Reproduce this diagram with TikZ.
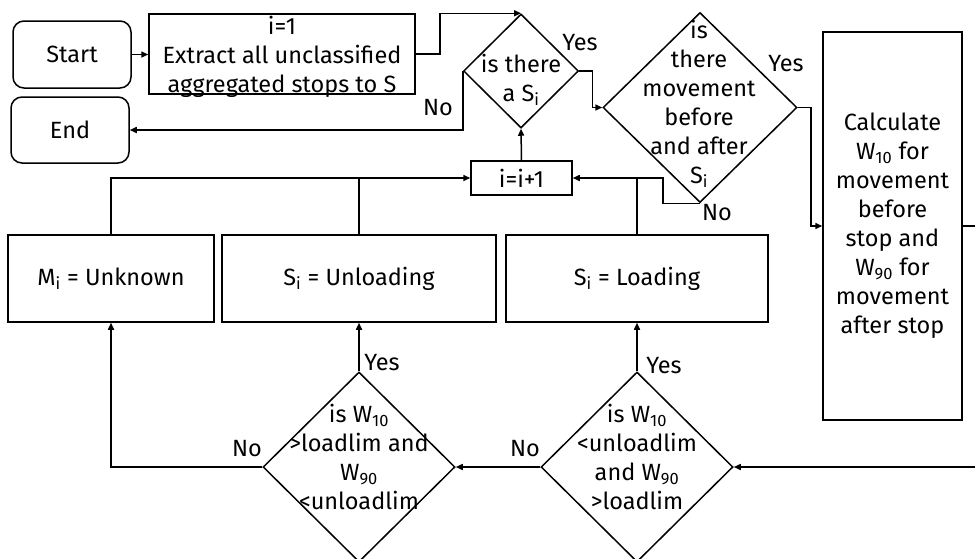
\documentclass[tikz,border=0pt]{standalone}
\usepackage{fontspec}
\setmainfont{Fira Sans}
\usetikzlibrary{shapes.geometric,arrows.meta}
\newcommand\lowidx[1]{\textsubscript{#1}}
\begin{document}
\begin{tikzpicture}[x=1pt,y=-1pt,
  every node/.style={font=\fontsize{23.5}{29}\selectfont},
  box/.style={draw, line width=1.5pt, rectangle, inner sep=0pt, align=center},
  term/.style={box, rounded corners=11pt},
  decision/.style={draw, line width=1.5pt, diamond, inner sep=0pt},
  txt/.style={align=center, inner sep=0pt},
  lbl/.style={inner sep=0pt},
  conn/.style={line width=1.5pt},
  arr/.style={conn, -{Triangle[length=7pt,width=6pt]}}
]
\useasboundingbox (0,0) rectangle (975,558);
\clip (0,0) rectangle (975,558);

% terminals and process boxes
\node[term, minimum width=118pt, minimum height=67pt] (start) at (72,54.5) {Start};
\node[term, minimum width=118pt, minimum height=66pt] (endn) at (70,130) {End};
\node[box, minimum width=266pt, minimum height=80pt] (extract) at (282,54) {};
\node[txt] (extracttxt) at (282,57) {i=1\\Extract all unclassified\\aggregated stops to S};
\node[box, minimum width=101pt, minimum height=34pt] (inc) at (521.5,178) {i=i+1};
\node[box, minimum width=139pt, minimum height=388pt] (calc) at (892.5,226)
  {Calculate\\W\lowidx{10} for\\movement\\before\\stop and\\W\lowidx{90} for\\movement\\after stop};
\node[box, minimum width=206pt, minimum height=87pt] (unk) at (111,278.5) {M\lowidx{i} = Unknown};
\node[box, minimum width=274pt, minimum height=87pt] (unl) at (359,278.5) {S\lowidx{i} = Unloading};
\node[box, minimum width=262pt, minimum height=87pt] (load) at (637,278.5) {S\lowidx{i} = Loading};

% decisions
\node[decision, minimum width=115pt, minimum height=114pt] (d1) at (521,71) {};
\node[txt] (d1txt) at (521,80) {is there\\a S\lowidx{i}};
\node[decision, minimum width=194pt, minimum height=190pt] (d2) at (700,107.5) {};
\node[txt] (d2txt) at (699,104) {is\\there\\movement\\before\\and after\\S\lowidx{i}};
\node[decision, minimum width=192pt, minimum height=190pt] (d3) at (359,467) {};
\node[txt] (d3txt) at (359,457) {is W\lowidx{10}\\>loadlim and\\W\lowidx{90}\\<unloadlim};
\node[decision, minimum width=192pt, minimum height=190pt] (d4) at (637,467) {};
\node[txt] (d4txt) at (637,457) {is W\lowidx{10}\\<unloadlim\\and W\lowidx{90}\\>loadlim};

% branch labels
\node[lbl] (yes1) at (580,43) {Yes};
\node[lbl] (no1) at (438,108) {No};
\node[lbl] (yes2) at (786,64) {Yes};
\node[lbl] (no2) at (717,213) {No};
\node[lbl] (yes3) at (382,363) {Yes};
\node[lbl] (no3) at (247,449) {No};
\node[lbl] (yes4) at (664,366) {Yes};
\node[lbl] (no4) at (525,449) {No};

% connectors
\draw[arr] (start.east) -- (start.east -| extract.west);
\draw[arr] (extract.east) -- ++(24,0) |- (d1.north);
\draw[arr] (d1.west) |- (endn.east);
\draw[arr] (d1.east) -- ++(13,0) |- (d2.west);
\draw[arr] (d2.east) -- ++(13,0) |- (calc.west);
\draw[arr] (calc.east) -- ++(30,0) |- (d4.east);
\draw[arr] (d2.south) -- ++(-37,0) |- (inc.east);
\draw[conn] (load.north) -- (load.north |- inc.east);
\draw[arr] (unk.north) |- (inc.west);
\draw[conn] (unl.north) -- (unl.north |- inc.west);
\draw[arr] (inc.north) -- (d1.south);
\draw[arr] (d3.north) -- (unl.south);
\draw[arr] (d4.north) -- (load.south);
\draw[arr] (d3.west) -| (unk.south);
\draw[arr] (d4.west) -- (d3.east);
\end{tikzpicture}
\end{document}
